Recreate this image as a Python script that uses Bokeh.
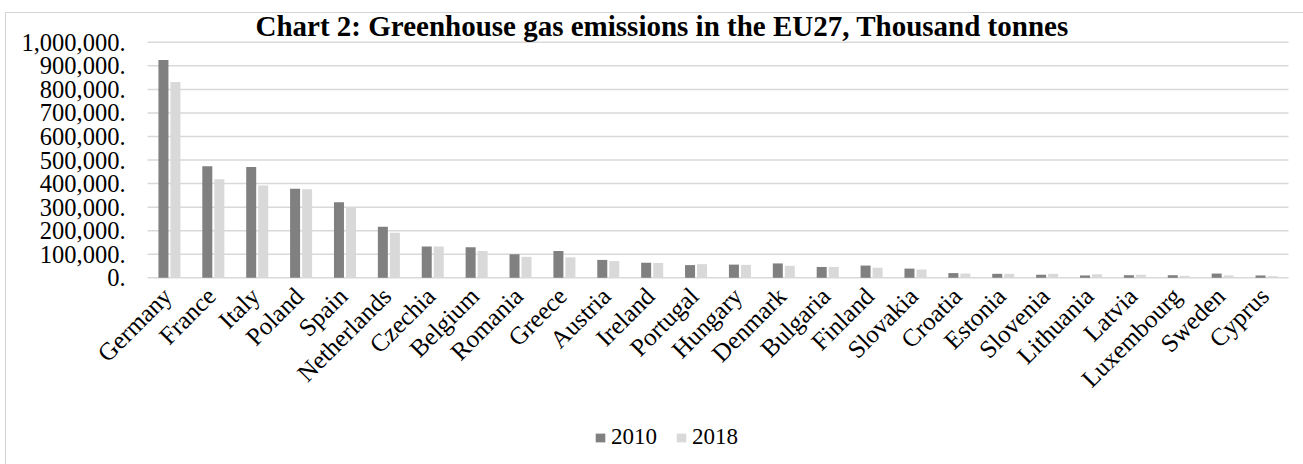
import math
from bokeh.plotting import figure
from bokeh.models import ColumnDataSource, Range1d, Legend, LegendItem, Label
from bokeh.core.properties import value
from bokeh.transform import dodge
from bokeh.embed import file_html
from bokeh.resources import INLINE

countries = ["Germany", "France", "Italy", "Poland", "Spain", "Netherlands", "Czechia",
             "Belgium", "Romania", "Greece", "Austria", "Ireland", "Portugal", "Hungary",
             "Denmark", "Bulgaria", "Finland", "Slovakia", "Croatia", "Estonia", "Slovenia",
             "Lithuania", "Latvia", "Luxembourg", "Sweden", "Cyprus"]
y2010 = [925000, 474000, 471000, 378000, 321000, 217000, 133000,
         130000, 100000, 114000, 76000, 64000, 54000, 56000,
         61000, 46000, 52000, 39000, 20000, 17000, 13000,
         10000, 11000, 11000, 18000, 10000]
y2018 = [831000, 418000, 392000, 376000, 297000, 191000, 133000,
         114000, 89000, 87000, 71000, 63000, 58000, 55000,
         51000, 46000, 43000, 35000, 18000, 17000, 17000,
         15000, 13000, 8000, 10000, 7000]
tick_values = [0, 100000, 200000, 300000, 400000, 500000, 600000, 700000, 800000, 900000, 1000000]
tick_labels = ["0.", "100,000.", "200,000.", "300,000.", "400,000.", "500,000.",
               "600,000.", "700,000.", "800,000.", "900,000.", "1,000,000."]
series_names = ["2010", "2018"]
title_text = "Chart 2: Greenhouse gas emissions in the EU27, Thousand tonnes"

FONT = "Liberation Serif"
DARK = "#808080"
LIGHT = "#d9d9d9"
GRID = "#d9d9d9"
BORDER = "#d4d4d4"

# ---- layout geometry (pixels); the plotting frame covers the whole canvas ----
W, H = 1303, 464
PLOT_LEFT, PLOT_RIGHT = 147, 1288      # extent of the category axis
TOP_TICK_PX, ZERO_PX = 41.8, 277.3     # top gridline and zero line
n = len(countries)
px_per_cat = (PLOT_RIGHT - PLOT_LEFT) / n
x_start = -PLOT_LEFT / px_per_cat
x_end = n + (W - PLOT_RIGHT) / px_per_cat
Y_MAX = tick_values[-1]
units_per_px = Y_MAX / (ZERO_PX - TOP_TICK_PX)
y_start = -(H - ZERO_PX) * units_per_px
y_end = Y_MAX + TOP_TICK_PX * units_per_px

# category k occupies [k, k+1] on the x scale; its centre is k + 0.5
xc = [k + 0.5 for k in range(n)]
src = ColumnDataSource(dict(country=countries, x=xc, a=y2010, b=y2018))
ysrc = ColumnDataSource(dict(y=tick_values, label=tick_labels,
                             x0=[0] * len(tick_values), x1=[n] * len(tick_values)))

p = figure(width=W, height=H, x_range=Range1d(x_start, x_end), y_range=Range1d(y_start, y_end),
           output_backend="svg", toolbar_location=None)
p.min_border_left = 0
p.min_border_right = 0
p.min_border_top = 0
p.min_border_bottom = 0
p.xaxis.visible = False
p.yaxis.visible = False
p.grid.visible = False
p.title.visible = False
p.outline_line_color = None
p.background_fill_color = None
p.border_fill_color = None
# outer chart border (light grey top and left edges), behind the transparent canvas
p.styles = {
    "background": (f"linear-gradient({BORDER},{BORDER}) 5px 12px / 1298px 1px no-repeat, "
                   f"linear-gradient({BORDER},{BORDER}) 5px 12px / 1px 452px no-repeat, #ffffff")
}

# horizontal gridlines across the category extent, one per y tick
p.segment(x0="x0", x1="x1", y0="y", y1="y", source=ysrc, line_color=GRID, line_width=1.5)

# y tick labels, right-aligned just left of the category extent
p.text(x="x0", y="y", text="label", source=ysrc, text_align="right", text_baseline="middle",
       x_offset=-22, text_font=value(FONT), text_font_size=value("24.5px"), text_color="black")

# bars
r1 = p.vbar(x=dodge("x", -0.137), top="a", width=0.228, source=src,
            fill_color=DARK, line_color=None)
r2 = p.vbar(x=dodge("x", 0.137), top="b", width=0.228, source=src,
            fill_color=LIGHT, line_color=None)

# category labels, anchored at each category on the zero line, rotated 45 degrees
p.text(x="x", y=0, text="country", source=src, angle=math.pi / 4,
       text_align="right", text_baseline="middle", x_offset=-2, y_offset=14,
       text_font=value(FONT), text_font_size=value("25px"), text_color="black")

# chart title (screen units, measured from the bottom-left of the canvas)
title = Label(x=255, y=H - 25, x_units="screen", y_units="screen", text=title_text,
              text_align="left", text_baseline="alphabetic", text_font=FONT,
              text_font_style="bold", text_font_size="29px", text_color="black")
p.add_layout(title)

legend = Legend(items=[LegendItem(label=series_names[0], renderers=[r1]),
                       LegendItem(label=series_names[1], renderers=[r2])],
                location=(594, 14), orientation="horizontal",
                glyph_width=12, glyph_height=11, label_standoff=5, spacing=18,
                padding=0, margin=0, border_line_alpha=0, background_fill_alpha=0,
                label_text_font=FONT, label_text_font_size="23px",
                label_text_color="black")
p.add_layout(legend)

open("out.html", "w").write(file_html(p, INLINE))
